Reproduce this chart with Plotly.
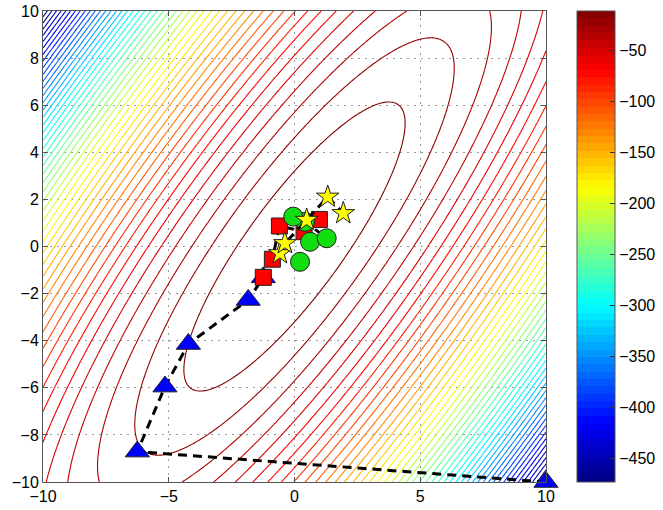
import numpy as np
import plotly.graph_objects as go

# ---- surface: f(x, y) = F_MAX - S * (A_XX x^2 + 2 A_XY x y + A_YY y^2) ----
F_MAX = -11.0
F_MIN = -473.0
A_XX = 0.175
A_XY = -0.107
A_YY = 0.0899
FIRST_LEVEL_Q = 0.922   # innermost drawn contour (in quadratic-form units)
LEVEL_STEP_Q = 1.0      # spacing between contour levels

# ---- trajectories ----
tri_x = [10, -6.25, -5.15, -4.22, -1.84, -1.24]
tri_y = [-10, -8.71, -5.95, -4.14, -2.27, -1.31]
sq_x = [-1.24, -0.88, -0.60, 0.38, 0.99]
sq_y = [-1.31, -0.54, 0.87, 0.63, 1.15]
circ_x = [0.22, 0.62, 1.28, 0.42, -0.05]
circ_y = [-0.65, 0.20, 0.35, 1.05, 1.27]
star_x = [-0.58, -0.38, 0.485, 1.32, 1.94]
star_y = [-0.29, 0.135, 1.125, 2.11, 1.41]

x_ticks = [-10, -5, 0, 5, 10]
y_ticks = [-10, -8, -6, -4, -2, 0, 2, 4, 6, 8, 10]
cb_ticks = [-50, -100, -150, -200, -250, -300, -350, -400, -450]

# grid
xs = np.linspace(-10, 10, 321)
ys = np.linspace(-10, 10, 321)
X, Y = np.meshgrid(xs, ys)
def qform(x, y):
    return A_XX * x ** 2 + 2 * A_XY * x * y + A_YY * y ** 2
Q = qform(X, Y)
Qmax = Q.max()
S = (F_MAX - F_MIN) / Qmax
Z = F_MAX - S * Q

# MATLAB-like jet
def jet(v):
    r = np.clip(1.5 - abs(4 * v - 3), 0, 1)
    g = np.clip(1.5 - abs(4 * v - 2), 0, 1)
    b = np.clip(1.5 - abs(4 * v - 1), 0, 1)
    return 'rgb(%d,%d,%d)' % (r * 255, g * 255, b * 255)

jet_smooth = [[i / 64, jet(i / 64)] for i in range(65)]
N = 64
jet_bands = []
for i in range(N):
    c = jet((i + 0.5) / N)
    jet_bands.append([i / N, c])
    jet_bands.append([(i + 1) / N, c])

step = S * LEVEL_STEP_Q
top_level = F_MAX - S * FIRST_LEVEL_Q
n_lev = int((top_level - F_MIN) / step)

fig = go.Figure()
fig.add_trace(go.Contour(
    x=xs, y=ys, z=Z,
    zmin=F_MIN, zmax=F_MAX, zauto=False,
    colorscale=jet_smooth,
    contours=dict(coloring='lines', start=top_level - n_lev * step,
                  end=top_level + 1e-6, size=step),
    line=dict(width=1.1),
    showscale=False, hoverinfo='skip'))

dash = '9px,6px'
def series(xv, yv, sym, col, size, clip=True):
    fig.add_trace(go.Scatter(x=xv, y=yv, mode='lines',
                             line=dict(color='black', width=3, dash=dash),
                             hoverinfo='skip', cliponaxis=clip))
    fig.add_trace(go.Scatter(x=xv, y=yv, mode='markers',
                             marker=dict(symbol=sym, color=col, size=size,
                                         line=dict(color='#202020', width=1)),
                             hoverinfo='skip', cliponaxis=clip))

series(tri_x, tri_y, 'triangle-up', '#0000ff', 21, clip=False)
series(sq_x, sq_y, 'square', '#ff0000', 16)
series(circ_x, circ_y, 'circle', '#11dd11', 19)
series(star_x, star_y, 'star', '#ffff00', 17)

# colorbar
fig.add_trace(go.Scatter(
    x=[None], y=[None], mode='markers',
    marker=dict(colorscale=jet_bands, cmin=F_MIN, cmax=F_MAX, color=[F_MIN],
                showscale=True,
                colorbar=dict(x=(577 - 43) / 503, xanchor='left', xpad=0,
                              y=0.5, yanchor='middle', len=1.0, lenmode='fraction',
                              thickness=38, ypad=0,
                              outlinecolor='#555555', outlinewidth=1,
                              tickvals=cb_ticks, ticks='inside', ticklen=5,
                              tickcolor='#333333',
                              tickfont=dict(size=16, color='black'))),
    hoverinfo='skip', showlegend=False))

axis_common = dict(range=[-10, 10], showgrid=True, gridcolor='#999999',
                   griddash='2px,5px', gridwidth=1, zeroline=False,
                   showline=True, linecolor='#555555', linewidth=1,
                   mirror='ticks', ticks='inside', ticklen=5, tickcolor='#555555',
                   automargin=False,
                   tickfont=dict(size=16, color='black'))
fig.update_layout(
    template='none',
    width=663, height=510,
    margin=dict(l=43, r=117, t=11, b=28, autoexpand=False),
    plot_bgcolor='white', paper_bgcolor='white',
    showlegend=False,
    font=dict(family='Liberation Sans, Arial, sans-serif', size=16, color='black'),
    xaxis=dict(tickvals=x_ticks, **axis_common),
    yaxis=dict(tickvals=y_ticks, **axis_common),
)

fig.write_html('out.html')
